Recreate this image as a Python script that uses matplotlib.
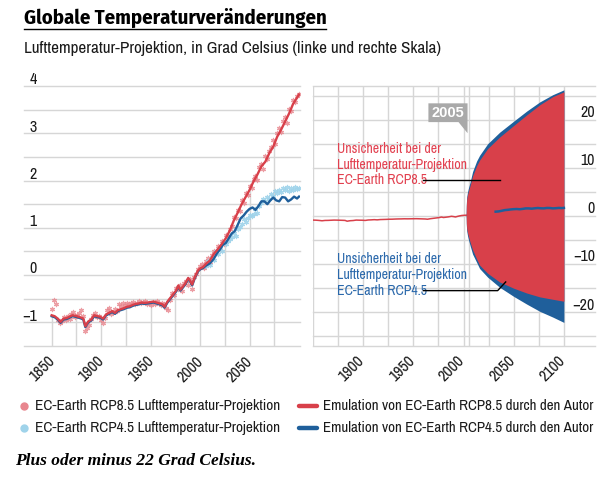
import numpy as np
import matplotlib.pyplot as plt
from matplotlib.lines import Line2D
from matplotlib.patches import Polygon

plt.rcParams['font.family'] = ['Archivo Narrow', 'DejaVu Sans']

RED = '#d8404a'
BLUE = '#1f5f9b'
PINK = '#e8868e'
LIGHTBLUE = '#9fd3ea'
GRID = '#d6d6d6'
TXT = '#1a1a1a'
RED_TXT = '#e2404f'
BLUE_TXT = '#2a68ab'

# emulation RCP8.5 (author), also the shared historical part
emu85_years = [1850, 1853, 1856, 1859, 1862, 1865, 1868, 1871, 1874, 1877, 1880, 1882,
               1884, 1887, 1890, 1893, 1896, 1899, 1902, 1905, 1908, 1911, 1914, 1917,
               1920, 1923, 1926, 1929, 1932, 1935, 1938, 1941, 1944, 1947, 1950, 1953,
               1956, 1959, 1962, 1964, 1967, 1970, 1973, 1976, 1978, 1980, 1982, 1985,
               1988, 1990, 1992, 1994, 1996, 1998, 2000, 2003, 2006, 2010, 2014, 2018,
               2022, 2026, 2030, 2034, 2038, 2042, 2046, 2050, 2054, 2058, 2062, 2066,
               2070, 2074, 2078, 2082, 2086, 2090, 2094, 2097, 2100]
emu85_vals = [-0.85, -0.87, -0.92, -0.99, -0.92, -0.91, -0.88, -0.85, -0.86, -0.88, -0.90, -0.92,
              -1.08, -0.98, -0.94, -0.85, -0.87, -0.88, -0.92, -0.83, -0.80, -0.76, -0.80, -0.74,
              -0.72, -0.70, -0.67, -0.66, -0.63, -0.61, -0.60, -0.58, -0.59, -0.58, -0.57, -0.56,
              -0.58, -0.60, -0.62, -0.67, -0.56, -0.48, -0.40, -0.32, -0.22, -0.31, -0.26, -0.18,
              -0.06, -0.12, -0.20, -0.08, 0.02, 0.10, 0.14, 0.17, 0.24, 0.31, 0.45, 0.55,
              0.66, 0.78, 0.94, 1.15, 1.32, 1.50, 1.65, 1.80, 1.98, 2.13, 2.30, 2.40,
              2.58, 2.72, 2.93, 3.08, 3.25, 3.42, 3.62, 3.72, 3.82]

# emulation RCP4.5 after the shared historical part
emu45_years = [2006, 2010, 2014, 2017, 2020, 2023, 2026, 2029, 2032, 2035, 2038, 2041,
               2044, 2047, 2050, 2053, 2056, 2059, 2062, 2065, 2068, 2071, 2074, 2077,
               2080, 2083, 2086, 2089, 2092, 2095, 2098, 2100]
emu45_vals = [0.22, 0.27, 0.37, 0.48, 0.56, 0.66, 0.70, 0.80, 0.90, 0.95, 1.08, 1.22,
              1.28, 1.36, 1.42, 1.45, 1.40, 1.48, 1.58, 1.58, 1.52, 1.60, 1.66, 1.60,
              1.58, 1.67, 1.66, 1.58, 1.62, 1.68, 1.64, 1.68]

# EC-Earth model output, RCP8.5
sc85_years = list(range(1850, 2101, 2))
sc85_vals = [-0.72, -0.52, -0.62, -0.95, -1.02, -0.98, -0.88, -0.95, -0.86, -0.92, -0.82, -0.78,
             -0.88, -0.84, -0.80, -0.74, -0.86, -1.18, -1.12, -1.05, -0.92, -0.84, -0.80, -0.88,
             -0.86, -0.95, -1.02, -0.90, -0.74, -0.70, -0.82, -0.78, -0.72, -0.76, -0.62, -0.66,
             -0.60, -0.64, -0.58, -0.62, -0.60, -0.57, -0.62, -0.58, -0.55, -0.60, -0.56, -0.54,
             -0.62, -0.58, -0.64, -0.56, -0.62, -0.55, -0.58, -0.64, -0.60, -0.62, -0.70, -0.74,
             -0.52, -0.38, -0.42, -0.28, -0.30, -0.22, -0.34, -0.16, -0.12, -0.20, -0.08, -0.30,
             -0.04, 0.02, 0.12, 0.20, 0.24, 0.16, 0.30, 0.36, 0.28, 0.42, 0.50, 0.46,
             0.62, 0.58, 0.72, 0.66, 0.84, 0.82, 0.98, 1.04, 1.22, 1.20, 1.38, 1.36,
             1.58, 1.52, 1.74, 1.70, 1.88, 1.84, 2.04, 2.10, 2.02, 2.28, 2.34, 2.24,
             2.52, 2.46, 2.62, 2.70, 2.86, 2.78, 3.00, 3.12, 3.02, 3.26, 3.34, 3.22,
             3.52, 3.48, 3.70, 3.66, 3.78, 3.84]

# EC-Earth model output, RCP4.5
sc45_years = list(range(2006, 2101, 2))
sc45_vals = [0.20, 0.30, 0.22, 0.38, 0.32, 0.50, 0.44, 0.58, 0.52, 0.70, 0.66, 0.72,
             0.76, 0.80, 0.88, 0.82, 0.98, 1.02, 1.08, 1.18, 1.12, 1.20, 1.28, 1.24,
             1.30, 1.40, 1.32, 1.46, 1.52, 1.62, 1.56, 1.66, 1.62, 1.72, 1.68, 1.78,
             1.74, 1.80, 1.76, 1.84, 1.80, 1.86, 1.78, 1.84, 1.80, 1.86, 1.82, 1.84]

# uncertainty fans (right scale)
fan_years = [2002.6, 2002.8, 2003.2, 2004, 2005, 2006.5, 2009, 2013, 2016, 2024,
             2036, 2050, 2063, 2076, 2089, 2100]
fan85_hi = [0.5, 2.2, 3.5, 4.4, 5.2, 6.3, 8.3, 10.4, 11.6, 14.0,
            16.4, 18.8, 21.0, 23.1, 24.8, 25.8]
fan85_lo = [0.5, -1.5, -2.6, -3.5, -4.3, -5.4, -7.0, -8.9, -10.2, -11.9,
            -13.7, -15.0, -16.0, -16.8, -17.3, -17.7]
fan45_hi = [0.5, 2.6, 4.0, 5.0, 5.9, 7.0, 9.2, 11.4, 12.6, 15.0,
            17.4, 19.7, 21.8, 23.7, 25.2, 26.2]
fan45_lo = [0.5, -1.9, -3.1, -4.1, -5.0, -6.1, -7.9, -9.6, -10.9, -12.7,
            -14.8, -16.7, -18.3, -19.8, -21.0, -22.1]

left_yticks = [-1, 0, 1, 2, 3, 4]
left_xlabels = [1850, 1900, 1950, 2000, 2050]
right_yticks = [-20, -10, 0, 10, 20]
right_xlabels = [1900, 1950, 2000, 2050, 2100]

W, H = 610, 479
fig = plt.figure(figsize=(W / 100, H / 100), dpi=100)


def fx(x):
    return x / W


def fy(y):
    return 1 - y / H


# ---------------- left panel
axL = fig.add_axes([fx(24), fy(346), (300 - 24) / W, (346 - 86) / H])
axL.set_xlim(1822, 2101)
axL.set_ylim(-1.5, 4)
axL.axis('off')
for v in np.arange(-1.5, 4.01, 0.5):
    axL.axhline(v, color=GRID, lw=1, zorder=0, clip_on=False)
for yr in range(1850, 2100, 25):
    top = np.interp(yr, emu85_years, emu85_vals)
    axL.vlines(yr, -1.5, top, color=GRID, lw=1, zorder=0)

axL.scatter(sc85_years, sc85_vals, marker=(6, 2, 0), s=9, linewidths=0.9,
            color=PINK, alpha=0.8, zorder=2)
axL.scatter(sc45_years, sc45_vals, marker=(6, 2, 0), s=9, linewidths=0.9,
            color=LIGHTBLUE, alpha=0.9, zorder=2)

hist = [(y, v) for y, v in zip(emu85_years, emu85_vals) if y <= 2003]
y45 = [h[0] for h in hist] + emu45_years
v45 = [h[1] for h in hist] + emu45_vals
axL.plot(y45, np.array(v45) - 0.02, color=BLUE, lw=1.7, zorder=3)
axL.plot(emu85_years, emu85_vals, color=RED, lw=1.7, zorder=4)

for v in left_yticks:
    lab = str(v).replace('-', '\u2212')
    axL.text(1835, v + 0.13, lab, ha='right', va='center', fontsize=11.5, color=TXT)
for yr in left_xlabels:
    axL.text(yr + 6, -1.66, str(yr), rotation=45, ha='right', va='top',
             fontsize=11.5, color=TXT)

# ---------------- right panel
axR = fig.add_axes([fx(313), fy(346), (595 - 313) / W, (346 - 86) / H])
axR.set_xlim(1850, 2131)
axR.set_ylim(-27, 27)
axR.axis('off')
for v in [-27] + list(range(-25, 26, 5)) + [27]:
    axR.axhline(v, color=GRID, lw=1, zorder=0, clip_on=False)
for yr in list(range(1850, 2101, 25)) + [2005]:
    axR.axvline(yr, color=GRID, lw=1, zorder=0)

hist_y = [y for y in emu85_years if y <= 2003]
hist_v = [v for y, v in zip(emu85_years, emu85_vals) if y <= 2003]
axR.plot(hist_y, hist_v, color=RED, lw=1.1, zorder=2)
axR.fill_between(fan_years, fan45_lo, fan45_hi, color=BLUE, lw=0, zorder=3)
axR.fill_between(fan_years, fan85_lo, fan85_hi, color=RED, lw=0, zorder=4)
in_y = [y for y in emu45_years if y >= 2032]
in_v = [v for y, v in zip(emu45_years, emu45_vals) if y >= 2032]
axR.plot(in_y, in_v, color=BLUE, lw=1.8, zorder=5)

for v in right_yticks:
    lab = str(v).replace('-', '\u2212')
    axR.text(2131, v + 1.5, lab, ha='right', va='center', fontsize=11.5, color=TXT)
for yr in right_xlabels:
    axR.text(yr + 4, -28.4, str(yr), rotation=45, ha='right', va='top',
             fontsize=11.5, color=TXT)

# 2005 callout
axR.add_patch(Polygon([(1965, 23.4), (2004, 23.4), (2004, 17.2), (1995, 19.5), (1965, 19.5)],
                      closed=True, facecolor='#a9a9a9', edgecolor='none', zorder=6))
axR.text(1984.5, 21.4, '2005', ha='center', va='center', color='white',
         fontsize=10.5, fontweight='bold', family='Liberation Sans', zorder=7)

# annotations
for txt, v in zip(['Unsicherheit bei der', 'Lufttemperatur-Projektion', 'EC-Earth RCP8.5'],
                  [13.9, 10.6, 7.45]):
    axR.text(1874, v, txt, ha='left', va='center', fontsize=10, color=RED_TXT, zorder=7)
for txt, v in zip(['Unsicherheit bei der', 'Lufttemperatur-Projektion', 'EC-Earth RCP4.5'],
                  [-8.9, -12.2, -15.5]):
    axR.text(1874, v, txt, ha='left', va='center', fontsize=10, color=BLUE_TXT, zorder=7)
axR.plot([1960, 2036], [7.45, 7.45], color='black', lw=1, zorder=8)
axR.plot([1960, 2034, 2042], [-15.5, -15.5, -13.7], color='black', lw=1, zorder=8)

# ---------------- titles
fig.text(fx(24), fy(17.5), 'Globale Temperaturveränderungen', ha='left', va='center',
         fontsize=14.8, fontweight='bold', family=['Fira Sans Condensed', 'DejaVu Sans'],
         color='black')
fig.add_artist(Line2D([fx(24), fx(326)], [fy(29), fy(29)], color='black', lw=1))
fig.text(fx(24), fy(48), 'Lufttemperatur-Projektion, in Grad Celsius (linke und rechte Skala)',
         ha='left', va='center', fontsize=12.3, color=TXT)

# ---------------- legend
fig.add_artist(Line2D([fx(24)], [fy(406)], marker='o', ms=5, color=PINK, lw=0))
fig.add_artist(Line2D([fx(24)], [fy(428)], marker='o', ms=5, color=LIGHTBLUE, lw=0))
fig.text(fx(35), fy(406), 'EC-Earth RCP8.5 Lufttemperatur-Projektion', va='center',
         fontsize=11, color=TXT)
fig.text(fx(35), fy(428), 'EC-Earth RCP4.5 Lufttemperatur-Projektion', va='center',
         fontsize=11, color=TXT)
fig.add_artist(Line2D([fx(299), fx(317)], [fy(406), fy(406)], color=RED, lw=3.2,
                      solid_capstyle='round'))
fig.add_artist(Line2D([fx(299), fx(317)], [fy(428), fy(428)], color=BLUE, lw=3.2,
                      solid_capstyle='round'))
fig.text(fx(323), fy(406), 'Emulation von EC-Earth RCP8.5 durch den Autor', va='center',
         fontsize=10.8, color=TXT)
fig.text(fx(323), fy(428), 'Emulation von EC-Earth RCP4.5 durch den Autor', va='center',
         fontsize=10.8, color=TXT)

fig.text(fx(15), fy(461), 'Plus oder minus 22 Grad Celsius.', va='center', fontsize=12.5,
         family='Liberation Serif', style='italic', fontweight='bold', color='black')

fig.savefig('out.png', dpi=100)
